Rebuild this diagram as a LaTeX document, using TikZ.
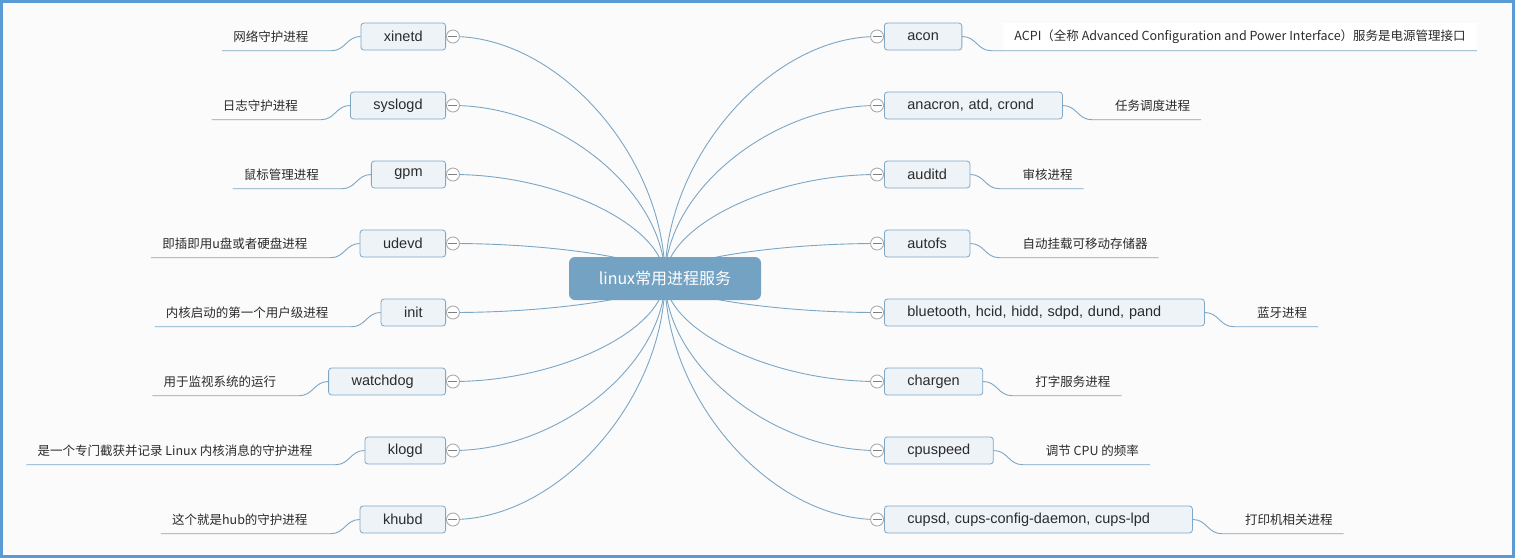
\documentclass[tikz,border=0pt]{standalone}
\usepackage{fontspec}
\setmainfont{Liberation Sans}
\newfontfamily\cjk{Noto Sans CJK SC}
\usepackage{tikz}
\usetikzlibrary{calc,positioning}

\definecolor{paper}{HTML}{FBFBFB}
\definecolor{frameblue}{HTML}{5B9BD5}
\definecolor{topicblue}{HTML}{73A2C3}
\definecolor{boxfill}{HTML}{EEF3F7}
\definecolor{boxline}{HTML}{7FA8C7}
\definecolor{linecol}{HTML}{7BA6C6}
\definecolor{foldline}{HTML}{ABABAB}
\definecolor{foldbar}{HTML}{808080}
\definecolor{inkgray}{HTML}{2B2B2B}

\pgfdeclarelayer{back}
\pgfsetlayers{back,main}

\begin{document}
\begin{tikzpicture}[x=1pt,y=-1pt,
    topicbox/.style={fill=topicblue, rounded corners=6pt, minimum width=192pt,
        minimum height=43pt, text=white, font=\fontsize{16}{19}\selectfont\cjk},
    subbox/.style={draw=boxline, line width=0.8pt, fill=boxfill, rounded corners=3pt,
        minimum height=27pt, inner xsep=23pt, inner ysep=0pt, text=inkgray,
        font=\fontsize{14.5}{17}\selectfont},
    widebox/.style={subbox, align=left, text width=#1},
    foldmark/.style={circle, draw=foldline, line width=0.9pt, fill=white,
        minimum size=13pt, inner sep=0pt,
        path picture={\draw[foldbar, line width=1.8pt]
            ([xshift=-4.5pt]path picture bounding box.center) --
            ([xshift=4.5pt]path picture bounding box.center);}},
    notetext/.style={inner xsep=11pt, inner ysep=0pt, minimum height=28pt,
        text=inkgray, font=\fontsize{12.5}{15}\selectfont\cjk},
    branchline/.style={draw=linecol, line width=0.9pt}]

    \useasboundingbox (0,0) rectangle (1515,558);

    % -- Central topic --
    \node[topicbox] (linux) at (665,278.5) {linux常用进程服务};

    % -- Left branches --
    \node[subbox, anchor=east] (xinetd) at (446,36.5) {xinetd};
    \node[subbox, anchor=east] (syslogd) at (446,105.5) {syslogd};
    \node[subbox, anchor=east] (gpm) at (446,174.5) {gpm};
    \node[subbox, anchor=east] (udevd) at (446,243.5) {udevd};
    \node[subbox, anchor=east] (init) at (446,312.5) {init};
    \node[widebox=71pt, anchor=east] (watchdog) at (446,381.5) {watchdog};
    \node[subbox, anchor=east] (klogd) at (446,450.5) {klogd};
    \node[subbox, anchor=east] (khubd) at (446,519.5) {khubd};

    \node[foldmark, right=0pt of xinetd] (fxinetd) {};
    \node[foldmark, right=0pt of syslogd] (fsyslogd) {};
    \node[foldmark, right=0pt of gpm] (fgpm) {};
    \node[foldmark, right=0pt of udevd] (fudevd) {};
    \node[foldmark, right=0pt of init] (finit) {};
    \node[foldmark, right=0pt of watchdog] (fwatchdog) {};
    \node[foldmark, right=0pt of klogd] (fklogd) {};
    \node[foldmark, right=0pt of khubd] (fkhubd) {};

    % notes on the left
    \node[notetext, anchor=east] (nxinetd) at ([xshift=-41pt]xinetd.west) {网络守护进程};
    \node[notetext, anchor=east] (nsyslogd) at ([xshift=-41pt]syslogd.west) {日志守护进程};
    \node[notetext, anchor=east] (ngpm) at ([xshift=-41pt]gpm.west) {鼠标管理进程};
    \node[notetext, anchor=east] (nudevd) at ([xshift=-41pt]udevd.west) {即插即用u盘或者硬盘进程};
    \node[notetext, anchor=east] (ninit) at ([xshift=-41pt]init.west) {内核启动的第一个用户级进程};
    \node[notetext, anchor=east] (nwatchdog) at ([xshift=-41pt]watchdog.west) {用于监视系统的运行};
    \node[notetext, anchor=east] (nklogd) at ([xshift=-41pt]klogd.west) {是一个专门截获并记录 Linux 内核消息的守护进程};
    \node[notetext, anchor=east] (nkhubd) at ([xshift=-41pt]khubd.west) {这个就是hub的守护进程};

    % -- Right branches --
    \node[subbox, anchor=west] (acon) at (884,36.5) {acon};
    \node[widebox=132pt, anchor=west] (anacron) at (884,105.5) {anacron, atd, crond};
    \node[subbox, anchor=west] (auditd) at (884,174.5) {auditd};
    \node[subbox, anchor=west] (autofs) at (884,243.5) {autofs};
    \node[widebox=274pt, anchor=west] (bluetooth) at (884,312.5) {bluetooth, hcid, hidd, sdpd, dund, pand};
    \node[subbox, anchor=west] (chargen) at (884,381.5) {chargen};
    \node[subbox, anchor=west] (cpuspeed) at (884,450.5) {cpuspeed};
    \node[widebox=262pt, anchor=west] (cupsd) at (884,519.5) {cupsd, cups-config-daemon, cups-lpd};

    \node[foldmark, left=0pt of acon] (facon) {};
    \node[foldmark, left=0pt of anacron] (fanacron) {};
    \node[foldmark, left=0pt of auditd] (fauditd) {};
    \node[foldmark, left=0pt of autofs] (fautofs) {};
    \node[foldmark, left=0pt of bluetooth] (fbluetooth) {};
    \node[foldmark, left=0pt of chargen] (fchargen) {};
    \node[foldmark, left=0pt of cpuspeed] (fcpuspeed) {};
    \node[foldmark, left=0pt of cupsd] (fcupsd) {};

    % notes on the right
    \node[notetext, anchor=west, fill=white] (nacon) at ([xshift=41pt]acon.east)
        {ACPI（全称 Advanced Configuration and Power Interface）服务是电源管理接口};
    \node[notetext, anchor=west] (nanacron) at ([xshift=41pt]anacron.east) {任务调度进程};
    \node[notetext, anchor=west] (nauditd) at ([xshift=41pt]auditd.east) {审核进程};
    \node[notetext, anchor=west] (nautofs) at ([xshift=41pt]autofs.east) {自动挂载可移动存储器};
    \node[notetext, anchor=west] (nbluetooth) at ([xshift=41pt]bluetooth.east) {蓝牙进程};
    \node[notetext, anchor=west] (nchargen) at ([xshift=41pt]chargen.east) {打字服务进程};
    \node[notetext, anchor=west] (ncpuspeed) at ([xshift=41pt]cpuspeed.east) {调节 CPU 的频率};
    \node[notetext, anchor=west] (ncupsd) at ([xshift=41pt]cupsd.east) {打印机相关进程};

    % -- Curves from the central topic, behind everything --
    \begin{pgfonlayer}{back}
        \fill[paper] (0,0) rectangle (1515,558);
        \foreach \f in {fxinetd,fsyslogd,fgpm,fudevd,finit,fwatchdog,fklogd,fkhubd,
                        facon,fanacron,fauditd,fautofs,fbluetooth,fchargen,fcpuspeed,fcupsd}
            \draw[branchline] (linux.center)
                .. controls ($(linux.center)!.5!(linux.center |- \f.center)$)
                and ($(\f.center)!.5!(linux.center |- \f.center)$) .. (\f.center);
    \end{pgfonlayer}

    % -- Underlines of the notes --
    \draw[branchline] (xinetd.west) .. controls +(-14,0) and +(14,0) .. ([xshift=12pt]nxinetd.south east) -- (nxinetd.south west);
    \draw[branchline] (syslogd.west) .. controls +(-14,0) and +(14,0) .. ([xshift=12pt]nsyslogd.south east) -- (nsyslogd.south west);
    \draw[branchline] (gpm.west) .. controls +(-14,0) and +(14,0) .. ([xshift=12pt]ngpm.south east) -- (ngpm.south west);
    \draw[branchline] (udevd.west) .. controls +(-14,0) and +(14,0) .. ([xshift=12pt]nudevd.south east) -- (nudevd.south west);
    \draw[branchline] (init.west) .. controls +(-14,0) and +(14,0) .. ([xshift=12pt]ninit.south east) -- (ninit.south west);
    \draw[branchline] (watchdog.west) .. controls +(-14,0) and +(14,0) .. ([xshift=12pt]nwatchdog.south east) -- (nwatchdog.south west);
    \draw[branchline] (klogd.west) .. controls +(-14,0) and +(14,0) .. ([xshift=12pt]nklogd.south east) -- (nklogd.south west);
    \draw[branchline] (khubd.west) .. controls +(-14,0) and +(14,0) .. ([xshift=12pt]nkhubd.south east) -- (nkhubd.south west);

    \draw[branchline] (acon.east) .. controls +(14,0) and +(-14,0) .. ([xshift=-12pt]nacon.south west) -- (nacon.south east);
    \draw[branchline] (anacron.east) .. controls +(14,0) and +(-14,0) .. ([xshift=-12pt]nanacron.south west) -- (nanacron.south east);
    \draw[branchline] (auditd.east) .. controls +(14,0) and +(-14,0) .. ([xshift=-12pt]nauditd.south west) -- (nauditd.south east);
    \draw[branchline] (autofs.east) .. controls +(14,0) and +(-14,0) .. ([xshift=-12pt]nautofs.south west) -- (nautofs.south east);
    \draw[branchline] (bluetooth.east) .. controls +(14,0) and +(-14,0) .. ([xshift=-12pt]nbluetooth.south west) -- (nbluetooth.south east);
    \draw[branchline] (chargen.east) .. controls +(14,0) and +(-14,0) .. ([xshift=-12pt]nchargen.south west) -- (nchargen.south east);
    \draw[branchline] (cpuspeed.east) .. controls +(14,0) and +(-14,0) .. ([xshift=-12pt]ncpuspeed.south west) -- (ncpuspeed.south east);
    \draw[branchline] (cupsd.east) .. controls +(14,0) and +(-14,0) .. ([xshift=-12pt]ncupsd.south west) -- (ncupsd.south east);

    % -- Frame --
    \draw[frameblue, line width=3pt] (1.5,1.5) rectangle (1513.5,556.5);

\end{tikzpicture}
\end{document}
